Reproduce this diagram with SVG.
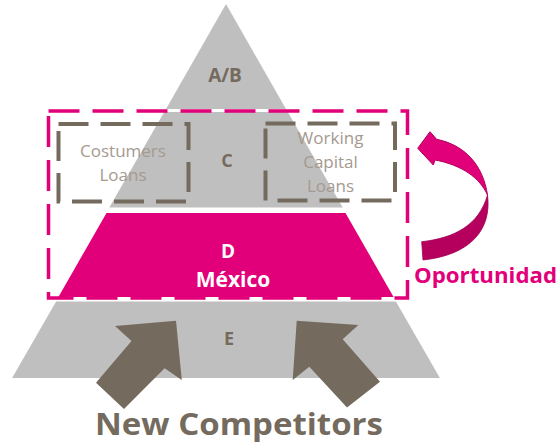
<svg xmlns="http://www.w3.org/2000/svg" width="557" height="448" viewBox="0 0 557 448">
<style>
.tier{fill:#BFBFBF}
.lbl{font-family:"Open Sans","Noto Sans",sans-serif;font-weight:bold;fill:#756A5E;text-anchor:middle}
.sub{font-family:"Open Sans","Noto Sans",sans-serif;fill:#A59A8F;text-anchor:middle;font-size:17px}
.wht{font-family:"Open Sans","Noto Sans",sans-serif;font-weight:bold;fill:#FFFFFF;text-anchor:middle}
.gbox{fill:none;stroke:#756A5E;stroke-width:4;stroke-dasharray:30 12}
.pbox{fill:none;stroke:#E2007A;stroke-width:3.5;stroke-dasharray:31 13}
.arr{fill:#756A5E}
</style>
<rect width="557" height="448" fill="#FFFFFF"/>
<g id="tier-ab"><polygon class="tier" points="226,4 166,109 286,109"/><text class="lbl" x="225" y="82" font-size="19">A/B</text></g>
<g id="tier-c"><polygon class="tier" points="164.2,112 287.8,112 342.7,207.5 109.3,207.5"/><text class="lbl" x="227" y="167" font-size="18">C</text></g>
<g id="tier-d"><polygon points="106.5,213 345.5,213 393.6,297 58.4,297" fill="#E2007A"/><text class="wht" x="228" y="258" font-size="19">D</text><text class="wht" x="233" y="287" font-size="21">México</text></g>
<g id="tier-e"><polygon class="tier" points="56.1,301.5 395.9,301.5 439.9,378 12.1,378"/><text class="lbl" x="229" y="345" font-size="18">E</text></g>
<g id="box-costumers"><rect class="gbox" x="58.5" y="124" width="130" height="77.5"/><text class="sub" x="123" y="157">Costumers</text><text class="sub" x="123" y="181">Loans</text></g>
<g id="box-working"><rect class="gbox" x="265.5" y="123.5" width="129.5" height="77"/><text class="sub" x="330.5" y="144">Working</text><text class="sub" x="330.5" y="168">Capital</text><text class="sub" x="330.5" y="192">Loans</text></g>
<g id="opportunity"><rect class="pbox" x="48.5" y="111" width="359" height="187"/>
<text x="414" y="283" font-family="'Open Sans','Noto Sans',sans-serif" font-weight="bold" font-size="22" fill="#E2007A" textLength="143" lengthAdjust="spacingAndGlyphs">Oportunidad</text></g>
<g id="connectors">
<polygon class="arr" points="176,320.7 115,326 131.5,341 96,382.7 124,409 164.6,368.3 181.8,380"/>
<polygon class="arr" points="296.7,320.7 358.3,325 342.7,339.3 380,381.7 347,407.5 309.3,366.7 292.7,380"/>
<path d="M436.7,139.3 C465,145 483,165 487.5,195 C480,178 462,165 435,160 L433.3,165 L417.7,148.3 L430,131.7 Z" fill="#E2007A" stroke="#B0005C" stroke-width="1"/>
<path d="M487.5,195 C492,230 470,255 423,260 L421.7,241.7 C455,238 479,225 487.5,195 Z" fill="#B5005E" stroke="#A00052" stroke-width="0.8"/>
</g>
<text class="lbl" x="239" y="435" font-size="31" textLength="288" lengthAdjust="spacingAndGlyphs">New Competitors</text>
</svg>
